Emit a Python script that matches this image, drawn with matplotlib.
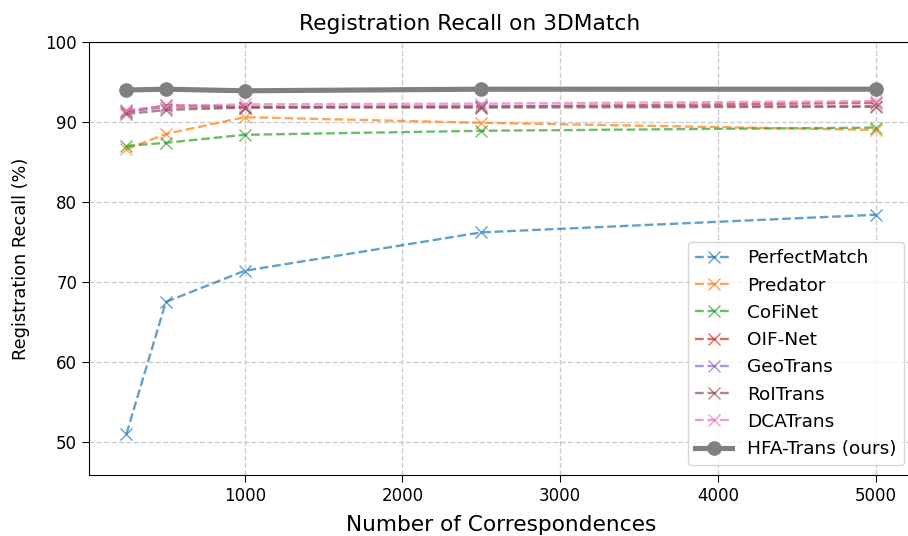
import numpy as np
import matplotlib.pyplot as plt

x = [250, 500, 1000, 2500, 5000]

perfectmatch = [51.0, 67.5, 71.4, 76.2, 78.4]
predator = [86.6, 88.5, 90.6, 89.9, 89.0]
cofinet = [87.0, 87.4, 88.4, 88.9, 89.3]
oifnet = [91.2, 92.1, 91.9, 91.9, 92.4]
geotrans = [91.4, 91.8, 91.8, 92.0, 92.0]
roitrans = [91.0, 91.5, 91.8, 91.8, 91.9]
dcatrans = [91.5, 92.0, 92.2, 92.3, 92.6]
hfatrans = [94.0, 94.1, 93.9, 94.1, 94.1]

methods = ["PerfectMatch", "Predator", "CoFiNet", "OIF-Net", "GeoTrans", "RoITrans", "DCATrans"]
values = [perfectmatch, predator, cofinet, oifnet, geotrans, roitrans, dcatrans]

fig = plt.figure(figsize=(9.08, 5.36), dpi=100)
# axes runs slightly past the right edge, like the cropped original
ax = fig.add_axes([89 / 908, 1 - 474.7 / 536, 824 / 908, (474.7 - 42) / 536])

for name, v in zip(methods, values):
    ax.plot(x, v, "--x", label=name, alpha=0.7, linewidth=1.7, markersize=8)
ax.plot(x, hfatrans, "-o", color="gray", label="HFA-Trans (ours)", linewidth=3.7, markersize=9.5)

ax.set_ylim(45.9, 100)
ax.set_yticks([50, 60, 70, 80, 90, 100])
ax.set_xticks([1000, 2000, 3000, 4000, 5000])
ax.tick_params(labelsize=12, length=5)
ax.grid(True, linestyle="--", color="#cccccc", linewidth=1.0)
ax.set_title("Registration Recall on 3DMatch", fontsize=15.7, x=(470 - 89) / 824, pad=9)
ax.set_xlabel("Number of Correspondences", fontsize=15.6, labelpad=7.5)
ax.set_ylabel("Registration Recall (%)", fontsize=12.8, labelpad=11)
ax.legend(loc="lower right", fontsize=13.3)

fig.savefig("out.png")
